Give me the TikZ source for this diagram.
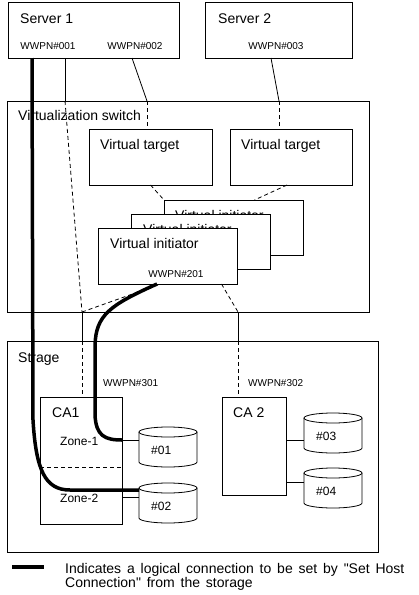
\documentclass[tikz,border=0pt]{standalone}
\usepackage{fontspec}
\setmainfont{Liberation Sans}
\newfontfamily\legfont[WordSpace=1.5]{Liberation Sans}
\tikzset{
  box/.style={draw, fill=white, line width=.8pt, inner sep=0pt, outer sep=0pt},
  link/.style={line width=.8pt},
  dlink/.style={line width=.8pt, dash pattern=on 4pt off 3pt},
  logic/.style={line width=3.5pt},
  txt/.style={anchor=base west, inner sep=0pt, font=\fontsize{14}{16}\selectfont},
  wwpn/.style={anchor=base, inner sep=0pt, font=\fontsize{10}{12}\selectfont},
  small/.style={anchor=base west, inner sep=0pt, font=\fontsize{12}{14}\selectfont},
  legtxt/.style={txt, font=\legfont\fontsize{14}{16}\selectfont},
}
% disk: name, x, y of top ellipse, label
\newcommand\disk[4]{%
  \draw[fill=white, line width=.8pt] (#2-29,#3) -- (#2-29,#3+30)
    arc[start angle=180, end angle=360, x radius=29pt, y radius=5pt] -- (#2+29,#3);
  \draw[fill=white, line width=.8pt] (#2,#3) ellipse [x radius=29pt, y radius=5pt];
  \node (#1) at (#2,#3+15) [inner sep=0pt, outer sep=0pt, minimum width=58, minimum height=30] {};
  \node (#1t) at (#2-17,#3+22) [small] {#4};
}
\begin{document}
\begin{tikzpicture}[x=1pt,y=-1pt]
\useasboundingbox (0,0) rectangle (419,595);

% servers
\node (s1) at (93.5,30) [box, minimum width=171, minimum height=56] {};
\node (s1t) at (20,23) [txt] {Server 1};
\node (w001) at (48,49) [wwpn] {WWPN\#001};
\node (w002) at (135,49) [wwpn] {WWPN\#002};
\node (s2) at (278.5,30) [box, minimum width=147, minimum height=56] {};
\node (s2t) at (218,23) [txt] {Server 2};
\node (w003) at (276,49) [wwpn] {WWPN\#003};

% switch
\node (sw) at (188,206.5) [box, minimum width=362, minimum height=211] {};
\node (swt) at (18,120) [txt] {Virtualization switch};
\node (vt1) at (150.5,157) [box, minimum width=123, minimum height=56] {};
\node (vt1t) at (100,149) [txt] {Virtual target};
\node (vt2) at (291,157) [box, minimum width=122, minimum height=56] {};
\node (vt2t) at (241,149) [txt] {Virtual target};
\node (vi3) at (233.5,227.5) [box, minimum width=139, minimum height=55] {};
\node (vi3t) at (175,220) [txt] {Virtual initiator};
\node (vi2) at (200.5,241.5) [box, minimum width=139, minimum height=55] {};
\node (vi2t) at (143,234) [txt] {Virtual initiator};
\node (vi1) at (167.5,256) [box, minimum width=139, minimum height=56] {};
\node (vi1t) at (110,248) [txt] {Virtual initiator};
\node (w201) at (176,277) [wwpn] {WWPN\#201};

% storage
\node (st) at (192.5,446.5) [box, minimum width=371, minimum height=211] {};
\node (stt) at (18,362) [txt] {Strage};
\node (w301) at (103,386) [wwpn, anchor=base west] {WWPN\#301};
\node (w302) at (248,386) [wwpn, anchor=base west] {WWPN\#302};
\node (ca1) at (81,460.5) [box, minimum width=82, minimum height=127] {};
\node (ca1t) at (52,417) [txt] {CA1};
\node (z1) at (60,445) [small] {Zone-1};
\node (z2) at (60,502) [small] {Zone-2};
\draw[dlink] (40,467) -- (122,467);
\node (ca2) at (254,446) [box, minimum width=64, minimum height=98] {};
\node (ca2t) at (233,417) [txt] {CA 2};
\disk{d1}{168}{432}{\#01}
\disk{d2}{168}{488}{\#02}
\disk{d3}{333}{418}{\#03}
\disk{d4}{333}{473}{\#04}

% ports
\coordinate (h1a) at (32,58);
\coordinate (h1b) at (65,58);
\coordinate (h2) at (132,58);
\coordinate (h3) at (271,58);
\coordinate (sw1) at (65,101);
\coordinate (sw2) at (147,101);
\coordinate (sw3) at (279,101);
\coordinate (sw4) at (82,312);
\coordinate (sw5) at (238,312);
\coordinate (st1) at (82,341);
\coordinate (st2) at (238,341);
\coordinate (v201) at (157,284);
\coordinate (d1a) at ([yshift=7pt]d1.west);
\coordinate (d2a) at ([yshift=13pt]d2.west);
\coordinate (d2b) at ([yshift=6pt]d2.west);
\coordinate (d3a) at ([yshift=-7pt]d3.west);
\coordinate (d4a) at ([yshift=6pt]d4.west);

% physical paths
\draw[link] (h1b) -- (sw1);
\draw[dlink] (sw1) -- (sw4);
\draw[dlink] (sw4) -- ([xshift=-7pt]vi1.south);
\draw[link] (sw4) -- (st1);
\draw[dlink] (st1) -- (st1 |- ca1.north);
\draw[link] (h2) -- (sw2);
\draw[dlink] (sw2) -- (sw2 |- vt1.north);
\draw[link] (h3) -- (sw3);
\draw[dlink] (sw3) -- (sw3 |- vt2.north);
\draw[dlink] (vt1.south) -- (vi3.north west);
\draw[dlink] ([xshift=-4pt]vt2.south) -- ([xshift=21pt]vi3.north);
\draw[dlink] ([xshift=54pt]vi1.south) -- (sw5);
\draw[link] (sw5) -- (st2);
\draw[dlink] (st2) -- (st2 |- ca2.north);
\draw[link] (d1a -| ca1.east) -- (d1a);
\draw[link] (d2b -| ca1.east) -- (d2b);
\draw[link] (d3a -| ca2.east) -- (d3a);
\draw[link] (d4a -| ca2.east) -- (d4a);

% logical connections
\draw[logic] (h1a) -- (33,420) .. controls (36,470) and (45,490) .. (70,490) -- (d2a);
\draw[logic] (v201) .. controls (110,305) and (96,315) .. (95,345) -- (95,415)
  .. controls (96,436) and (105,440) .. (d1a -| ca1.east);

% legend
\draw[logic] (12,567) -- (44,567);
\node (leg1) at (65,573) [legtxt] {Indicates a logical connection to be set by "Set Host};
\node (leg2) at (65,587) [legtxt] {Connection" from the storage};
\end{tikzpicture}
\end{document}
